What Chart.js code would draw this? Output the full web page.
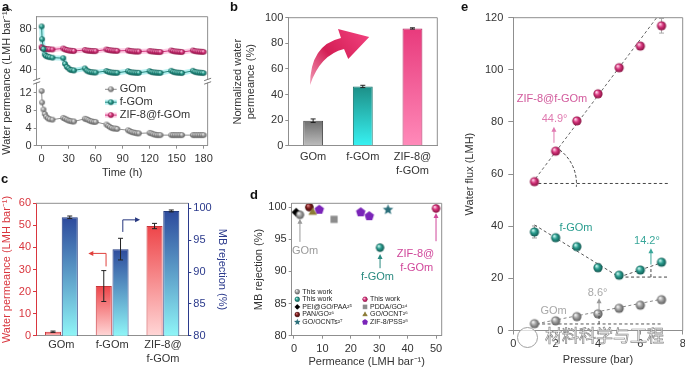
<!DOCTYPE html>
<html>
<head>
<meta charset="utf-8">
<script src="https://cdn.jsdelivr.net/npm/chart.js@4.4.1/dist/chart.umd.min.js"></script>
<style>
  body { margin:0; width:685px; height:368px; overflow:hidden; background:#fff; position:relative; font-family:'Liberation Sans', Arial, sans-serif; }
  canvas { position:absolute; }
  .pl { position:absolute; font-weight:bold; font-size:13px; line-height:13px; color:#111; }
  .wm { position:absolute; left:545px; top:325px; font-family:'Noto Sans CJK SC'; font-size:17px; line-height:20px; color:rgba(255,255,255,0.85); -webkit-text-stroke:0.7px #8a8a8a; }
  .logo { position:absolute; left:517px; top:327px; width:19px; height:19px; border:1.5px solid #a0a0a0; border-radius:50%; background:rgba(255,255,255,0.7); }
</style>
</head>
<body>
<canvas id="cA"></canvas>
<canvas id="cB"></canvas>
<canvas id="cC"></canvas>
<canvas id="cD"></canvas>
<canvas id="cE"></canvas>
<div class="pl" style="left:2px;top:0px">a</div>
<div class="pl" style="left:230px;top:0px">b</div>
<div class="pl" style="left:1px;top:172px">c</div>
<div class="pl" style="left:250px;top:188px">d</div>
<div class="pl" style="left:461px;top:0px">e</div>
<div class="logo"></div>
<div class="wm">材料科学与工程</div>
<script>
// ---- datos panel a (permeancia vs tiempo) ----
const aTime = [0, 0.5, 2, 3.5, 5, 7, 9, 12,
  24, 26, 28, 30, 32, 34, 36,
  48, 50, 52, 54, 56, 58, 60,
  72, 74, 76, 78, 80, 82, 84,
  96, 98, 100, 102, 104, 106, 108,
  120, 122, 124, 126, 128, 130, 132,
  144, 146, 148, 150, 152, 154, 156,
  168, 170, 172, 174, 176, 178, 180];
const aGOm = [12.4, 9.8, 8.2, 7.2, 6.6, 6.2, 6.0, 5.9,
  6.3, 6.1, 5.9, 5.7, 5.6, 5.5, 5.5,
  6.1, 6.0, 5.8, 5.6, 5.5, 5.4, 5.4,
  4.8, 4.5, 4.2, 4.0, 3.9, 3.9, 3.8,
  3.5, 3.3, 3.1, 3.0, 2.9, 2.8, 2.8,
  2.9, 2.8, 2.6, 2.5, 2.4, 2.4, 2.4,
  2.4, 2.4, 2.4, 2.4, 2.4, 2.4, 2.4,
  2.4, 2.4, 2.4, 2.4, 2.4, 2.4, 2.4];
const aFGOm = [82.5, 70, 60.5, 55, 53.5, 53, 52.5, 52,
  51.5, 46, 43, 41.5, 40, 39.8, 39.5,
  41.5, 39.5, 38.5, 38, 37.8, 37.6, 37.5,
  39, 38.2, 37.8, 37.5, 37.3, 37.2, 37.2,
  38.8, 38, 37.7, 37.5, 37.3, 37.2, 37.2,
  38.8, 38, 37.7, 37.5, 37.3, 37.2, 37.1,
  39.2, 38.2, 37.8, 37.5, 37.3, 37.2, 37,
  39.2, 38.2, 37.8, 37.5, 37.3, 37.2, 37];
const aZIF = [62.5, 61.5, 61, 60.7, 60.5, 60.3, 60.2, 60,
  61, 60, 59.5, 59, 58.8, 58.6, 58.5,
  59.5, 59, 58.8, 58.6, 58.5, 58.4, 58.4,
  60, 59.5, 59.2, 59, 58.8, 58.7, 58.6,
  59, 58.6, 58.4, 58.2, 58, 58, 58,
  58.5, 58.2, 58, 57.8, 57.6, 57.5, 57.5,
  59, 58.5, 58.2, 58, 57.8, 57.6, 57.5,
  59, 58.5, 58.2, 58, 57.8, 57.7, 57.6];
const aTicksX = [0, 30, 60, 90, 120, 150, 180];
const aTicksY = [0, 4, 8, 12, 40, 60, 80];
const aBrk = { lowMax: 14.4, upMin: 30, upMax: 92, split: 0.5, gap: 1 };

// ---- panel b ----
const bCats = ['GOm', 'f-GOm', ['ZIF-8@', 'f-GOm']];
const bVals = [19.5, 46.3, 91.6];
const bErr = [1.4, 0.9, 0.5];
const bTicksY = [0, 20, 40, 60, 80, 100];

// ---- panel c ----
const cCats = ['GOm', 'f-GOm', ['ZIF-8@', 'f-GOm']];
const cPerm = [1.8, 22.5, 49.7];
const cPermErr = [0.3, 7.0, 1.2];
const cRej = [98.6, 93.6, 99.6];
const cRejErr = [0.2, 1.7, 0.15];
const cTicksL = [0, 10, 20, 30, 40, 50, 60];
const cTicksR = [80, 85, 90, 95, 100];

// ---- panel d ----
const dThisGOm = [{x: 2.1, y: 98.8}];
const dThisFGOm = [{x: 30.3, y: 93.7}];
const dThisZIF = [{x: 50, y: 99.8}];
const dPEI = [{x: 0.8, y: 99.2}];
const dPDDA = [{x: 14.1, y: 98.1}];
const dPAN = [{x: 5.4, y: 100.0}];
const dGOOCNT = [{x: 6.6, y: 99.2}];
const dGOOCNTs = [{x: 33.1, y: 99.6}];
const dZIFPSS = [{x: 8.9, y: 99.6}, {x: 23.5, y: 99.2}, {x: 26.5, y: 98.6}];
const dTicksX = [0, 10, 20, 30, 40, 50];
const dTicksY = [80, 85, 90, 95, 100];

// ---- panel e ----
const ePress = [1, 2, 3, 4, 5, 6, 7];
const eGOm = [2.6, 3.7, 5.3, 6.4, 8.5, 9.7, 11.8];
const eGOmErr = [0.3, 0.4, 0.3, 0.5, 0.3, 0.3, 0.4];
const eFGOm = [37.8, 35.6, 32.2, 24.1, 21.2, 23.2, 26.2];
const eFGOmErr = [2.3, 0.8, 0.8, 1.5, 0.8, 0.8, 0.8];
const eZIF = [57.1, 68.8, 80.4, 90.8, 100.8, 109.1, 116.9];
const eZIFErr = [0.8, 0.8, 0.8, 0.8, 1.2, 1.2, 2.8];
const eZifFit = [{x: 1.05, y: 58.3}, {x: 6.77, y: 120}];
const eZifBase = [{x: 1.18, y: 56.4}, {x: 7.36, y: 56.4}];
const eFgoFit = [{x: 1, y: 40.5}, {x: 5, y: 20.5}];
const eFgoRise = [{x: 5, y: 20.5}, {x: 7, y: 26}];
const eFgoBase = [{x: 5.04, y: 20.5}, {x: 7.37, y: 20.5}];
const eGoFit = [{x: 1.1, y: 2.6}, {x: 7, y: 12}];
const eGoBase = [{x: 1.1, y: 2.5}, {x: 7.05, y: 2.5}];
const eTicksX = [0, 2, 4, 6, 8];
const eTicksY = [0, 20, 40, 60, 80, 100, 120];

// ---- config general ----
const AX = '#8f8f8f';
const TXT = '#333';
const FF = "'Liberation Sans', Arial, sans-serif";
Chart.defaults.font.family = FF;
Chart.defaults.font.size = 11;
Chart.defaults.color = TXT;
Chart.defaults.animation = false;
Chart.defaults.events = [];
Chart.defaults.plugins.legend.display = false;
Chart.defaults.plugins.tooltip.enabled = false;

const xy = (xs, ys) => xs.map((x, i) => ({x: x, y: ys[i]}));
const fixTicks = arr => s => { s.ticks = arr.map(v => ({value: v})); };

function place(id, box) {
  const c = document.getElementById(id);
  c.width = box.w; c.height = box.h;
  c.style.left = box.x + 'px'; c.style.top = box.y + 'px';
  return c;
}

function sphere(r, light, base, dark) {
  const s = Math.ceil(2 * r + 2), c = document.createElement('canvas');
  c.width = c.height = s;
  const g = c.getContext('2d'), m = s / 2;
  const gr = g.createRadialGradient(m - r * 0.35, m - r * 0.4, r * 0.1, m, m, r);
  gr.addColorStop(0, light); gr.addColorStop(0.45, base); gr.addColorStop(1, dark);
  g.fillStyle = gr; g.beginPath(); g.arc(m, m, r, 0, Math.PI * 2); g.fill();
  return c;
}

function poly(kind, r, fill) {
  const s = Math.ceil(2 * r + 2), c = document.createElement('canvas');
  c.width = c.height = s;
  const g = c.getContext('2d'), m = s / 2;
  let pts = [];
  if (kind === 'diamond') pts = [[0, -r], [r, 0], [0, r], [-r, 0]];
  else if (kind === 'square') pts = [[-r * .75, -r * .75], [r * .75, -r * .75], [r * .75, r * .75], [-r * .75, r * .75]];
  else if (kind === 'triangle') pts = [[0, -r], [r * .87, r * .5], [-r * .87, r * .5]];
  else if (kind === 'pentagon') for (let k = 0; k < 5; k++) { const a = -Math.PI / 2 + k * 2 * Math.PI / 5; pts.push([r * Math.cos(a), r * Math.sin(a)]); }
  else if (kind === 'star') for (let k = 0; k < 10; k++) { const a = -Math.PI / 2 + k * Math.PI / 5, rr = k % 2 ? r * 0.45 : r; pts.push([rr * Math.cos(a), rr * Math.sin(a)]); }
  g.fillStyle = fill; g.beginPath();
  pts.forEach((p, i) => i ? g.lineTo(m + p[0], m + p[1]) : g.moveTo(m + p[0], m + p[1]));
  g.closePath(); g.fill();
  return c;
}

const GRAY = ['#f4f4f4', '#a3a3a3', '#5a5a5a'];
const TEAL = ['#c8f7ef', '#2a9d8f', '#10564f'];
const PINK = ['#ffd3e8', '#d8367f', '#86103f'];

// escala con corte para el panel a
class BrokenScale extends Chart.LinearScale {
  getPixelForValue(v) {
    const mid = this.top + (this.bottom - this.top) * aBrk.split;
    if (v <= aBrk.lowMax) return this.bottom - v / aBrk.lowMax * (this.bottom - mid - aBrk.gap);
    return mid - aBrk.gap - (v - aBrk.upMin) / (aBrk.upMax - aBrk.upMin) * (mid - aBrk.gap - this.top);
  }
  getValueForPixel(p) {
    const mid = this.top + (this.bottom - this.top) * aBrk.split;
    if (p >= mid) return (this.bottom - p) / (this.bottom - mid - aBrk.gap) * aBrk.lowMax;
    return aBrk.upMin + (mid - aBrk.gap - p) / (mid - aBrk.gap - this.top) * (aBrk.upMax - aBrk.upMin);
  }
}
BrokenScale.id = 'broken';
BrokenScale.defaults = Chart.LinearScale.defaults;
Chart.register(BrokenScale);

// marco y barras de error (para todos)
function drawErr(chart) {
  const ctx = chart.ctx;
  chart.data.datasets.forEach((ds, i) => {
    if (!ds.errors) return;
    const meta = chart.getDatasetMeta(i), ys = chart.scales[meta.yAxisID];
    ctx.save(); ctx.strokeStyle = ds.errColor || '#222'; ctx.lineWidth = 1;
    meta.data.forEach((el, j) => {
      const e = ds.errors[j]; if (!e) return;
      const raw = ds.data[j], v = typeof raw === 'number' ? raw : raw.y;
      const x = el.x, y1 = ys.getPixelForValue(v + e), y2 = ys.getPixelForValue(v - e), w = ds.capW || 2.5;
      ctx.beginPath();
      ctx.moveTo(x, y1); ctx.lineTo(x, y2);
      ctx.moveTo(x - w, y1); ctx.lineTo(x + w, y1);
      ctx.moveTo(x - w, y2); ctx.lineTo(x + w, y2);
      ctx.stroke();
    });
    ctx.restore();
  });
}
Chart.register({
  id: 'err',
  beforeDatasetsDraw(chart, args, o) { if (o && o.under) drawErr(chart); },
  afterDatasetsDraw(chart, args, o) { if (!(o && o.under)) drawErr(chart); }
});
Chart.register({
  id: 'frame',
  afterDatasetsDraw(chart, args, o) {
    const {ctx, chartArea: a} = chart;
    ctx.save(); ctx.strokeStyle = AX; ctx.lineWidth = 1; ctx.beginPath();
    ctx.moveTo(a.left, a.top); ctx.lineTo(a.right, a.top);
    if (!(o && o.noRight)) { ctx.moveTo(a.right, a.top); ctx.lineTo(a.right, a.bottom); }
    ctx.stroke(); ctx.restore();
  }
});

function label(ctx, t, x, y, color, size, align) {
  ctx.save(); ctx.fillStyle = color; ctx.font = (size || 11) + 'px ' + FF;
  ctx.textAlign = align || 'center'; ctx.textBaseline = 'middle';
  ctx.fillText(t, x, y); ctx.restore();
}
function arrowUp(ctx, x, yb, yt, color) {
  ctx.save(); ctx.strokeStyle = color; ctx.fillStyle = color; ctx.lineWidth = 1;
  ctx.beginPath(); ctx.moveTo(x, yb); ctx.lineTo(x, yt + 4); ctx.stroke();
  ctx.beginPath(); ctx.moveTo(x, yt); ctx.lineTo(x - 2.5, yt + 5); ctx.lineTo(x + 2.5, yt + 5); ctx.closePath(); ctx.fill();
  ctx.restore();
}
function gridY(w) {
  return { grid: {drawOnChartArea: false, tickLength: 3, color: AX}, border: {color: AX}, afterFit: s => { s.width = w; } };
}

// ================= panel a =================
const boxA = {x: 0, y: 0, w: 217, h: 180}, areaA = {l: 36.7, t: 16.7, r: 210.7, b: 145.7};
const sphA = [sphere(2.8, ...GRAY), sphere(2.8, ...TEAL), sphere(2.8, ...PINK)];
const aLegend = {
  id: 'aLegend',
  afterDraw(chart) {
    const {ctx, chartArea: a} = chart, dss = chart.data.datasets;
    [0, 1, 2].forEach((i, k) => {
      const y = a.top + 72.6 + k * 12.9, x0 = a.left + 68.3, x1 = a.left + 80;
      if (i > 0) {
        ctx.save(); ctx.strokeStyle = dss[i + 2].borderColor; ctx.lineWidth = 5;
        ctx.beginPath(); ctx.moveTo(x0, y); ctx.lineTo(x1, y); ctx.stroke(); ctx.restore();
      }
      ctx.save(); ctx.strokeStyle = dss[i].borderColor; ctx.lineWidth = 1;
      ctx.beginPath(); ctx.moveTo(x0, y); ctx.lineTo(x1, y); ctx.stroke(); ctx.restore();
      const img = dss[i].pointStyle;
      ctx.drawImage(img, (x0 + x1) / 2 - img.width / 2, y - img.height / 2);
      label(ctx, dss[i].label, x1 + 3, y, TXT, 11, 'left');
    });
  }
};
const aBreak = {
  id: 'aBreak',
  afterDraw(chart) {
    const {ctx, chartArea: a} = chart, ys = chart.scales.y;
    const mid = (ys.getPixelForValue(aBrk.lowMax) + ys.getPixelForValue(aBrk.upMin)) / 2;
    [a.left, a.right].forEach(x => {
      ctx.save(); ctx.fillStyle = '#fff'; ctx.fillRect(x - 1.5, mid - 1.5, 3, 3);
      ctx.strokeStyle = '#777'; ctx.lineWidth = 1; ctx.beginPath();
      ctx.moveTo(x - 3.5, mid - 0.5); ctx.lineTo(x + 3.5, mid - 3);
      ctx.moveTo(x - 3.5, mid + 3); ctx.lineTo(x + 3.5, mid + 0.5);
      ctx.stroke(); ctx.restore();
    });
  }
};
new Chart(place('cA', boxA), {
  type: 'line',
  data: {
    datasets: [
      {label: 'GOm', data: xy(aTime, aGOm), borderColor: '#8d8d8d', borderWidth: 1, pointStyle: sphA[0], pointRadius: 3},
      {label: 'f-GOm', data: xy(aTime, aFGOm), borderColor: '#23867c', borderWidth: 1, pointStyle: sphA[1], pointRadius: 3},
      {label: 'ZIF-8@f-GOm', data: xy(aTime, aZIF), borderColor: '#d0337d', borderWidth: 1, pointStyle: sphA[2], pointRadius: 3},
      {data: xy(aTime, aFGOm), borderColor: 'rgba(90,225,225,0.45)', borderWidth: 5, pointRadius: 0},
      {data: xy(aTime, aZIF), borderColor: 'rgba(255,140,195,0.45)', borderWidth: 5, pointRadius: 0}
    ]
  },
  options: {
    responsive: false,
    layout: {padding: {left: 0, top: areaA.t - boxA.y, right: boxA.x + boxA.w - areaA.r, bottom: 0}},
    scales: {
      x: {
        type: 'linear', min: -5.5, max: 184.4, afterBuildTicks: fixTicks(aTicksX),
        afterFit: s => { s.height = boxA.y + boxA.h - areaA.b; },
        grid: {drawOnChartArea: false, tickLength: 3, color: AX}, border: {color: AX},
        ticks: {padding: 4, autoSkip: false, maxRotation: 0, callback: v => String(v)},
        title: {display: true, text: 'Time (h)', padding: 0}
      },
      y: Object.assign(gridY(areaA.l - boxA.x), {
        type: 'broken', min: 0, max: 92, afterBuildTicks: fixTicks(aTicksY),
        ticks: {padding: 2, callback: v => String(v)},
        title: {display: true, text: 'Water permeance (LMH bar⁻¹)', padding: 0}
      })
    }
  },
  plugins: [aLegend, aBreak]
});

// ================= panel b =================
const boxB = {x: 231, y: 0, w: 215, h: 186}, areaB = {l: 288.3, t: 17.7, r: 437.3, b: 145.7};
const bTop = ['#6e6e6e', '#1d8f87', '#e83a7c'], bBot = ['#bdbdbd', '#37f2f2', '#ff8ab9'], bLine = ['#4a4a4a', '#16736c', '#b02a62'];
function vgrad(tops, bots) {
  return c => {
    const ch = c.chart;
    if (c.type !== 'data' || !ch.chartArea) return tops[0];
    const ds = ch.data.datasets[c.datasetIndex], sc = ch.scales[ds.yAxisID || 'y'];
    const k = tops.length > 1 ? c.dataIndex : 0;
    const g = ch.ctx.createLinearGradient(0, sc.getPixelForValue(c.raw), 0, sc.getPixelForValue(sc.min));
    g.addColorStop(0, tops[k]); g.addColorStop(1, bots[k]);
    return g;
  };
}
const bArrow = {
  id: 'bArrow',
  afterDatasetsDraw(chart) {
    const {ctx} = chart, X = v => chart.scales.x.getPixelForValue(v), Y = v => chart.scales.y.getPixelForValue(v);
    const T = [X(-0.062), Y(47.4)], A = [X(0.561), Y(84.2)], H1 = [X(0.501), Y(91.2)], P = [X(1.129), Y(85)],
      H2 = [X(0.707), Y(67.7)], B = [X(0.622), Y(75.5)], Co = [X(-0.062), Y(78.7)], Ci = [X(0.139), Y(70.9)];
    const g = ctx.createLinearGradient(T[0], T[1], P[0], P[1]);
    g.addColorStop(0, '#f29ab6'); g.addColorStop(0.45, '#d41e55'); g.addColorStop(1, '#f0407c');
    ctx.save(); ctx.fillStyle = g; ctx.beginPath();
    ctx.moveTo(T[0], T[1]); ctx.quadraticCurveTo(Co[0], Co[1], A[0], A[1]);
    ctx.lineTo(H1[0], H1[1]); ctx.lineTo(P[0], P[1]); ctx.lineTo(H2[0], H2[1]); ctx.lineTo(B[0], B[1]);
    ctx.quadraticCurveTo(Ci[0], Ci[1], T[0], T[1]); ctx.closePath(); ctx.fill(); ctx.restore();
  }
};
new Chart(place('cB', boxB), {
  type: 'bar',
  data: {
    labels: bCats,
    datasets: [{data: bVals, errors: bErr, backgroundColor: vgrad(bTop, bBot), borderColor: bLine, borderWidth: 1,
      categoryPercentage: 0.8, barPercentage: 0.5}]
  },
  options: {
    responsive: false,
    layout: {padding: {left: 0, top: areaB.t - boxB.y, right: boxB.x + boxB.w - areaB.r, bottom: 0}},
    scales: {
      x: {
        afterFit: s => { s.height = boxB.y + boxB.h - areaB.b; },
        grid: {display: true, drawOnChartArea: false, drawTicks: false, color: AX}, border: {color: AX},
        ticks: {padding: 5}
      },
      y: Object.assign(gridY(areaB.l - boxB.x), {
        min: 0, max: 100, afterBuildTicks: fixTicks(bTicksY),
        ticks: {padding: 2, callback: v => String(v)},
        title: {display: true, text: ['Normalized water', 'permeance (%)'], padding: 0}
      })
    }
  },
  plugins: [bArrow]
});

// ================= panel c =================
const boxC = {x: 0, y: 190, w: 229, h: 178}, areaC = {l: 36, t: 203.3, r: 188.3, b: 335.7};
const RED = '#d9363e', NAVY = '#2b3a8c';
const cArrows = [
  {axis: 'y', x1: 0.88, y1: 31.4, y2: 37.3, x2: 0.53, c: '#e0403c'},
  {axis: 'y2', x1: 1.21, y1: 96.3, y2: 98.2, x2: 1.55, c: '#27387f'}
];
const cArrow = {
  id: 'cArrow',
  afterDatasetsDraw(chart) {
    const {ctx} = chart, X = v => chart.scales.x.getPixelForValue(v);
    cArrows.forEach(a => {
      const Y = v => chart.scales[a.axis].getPixelForValue(v);
      const x1 = X(a.x1), x2 = X(a.x2), yb = Y(a.y1), yt = Y(a.y2), dir = x2 > x1 ? 1 : -1;
      ctx.save(); ctx.strokeStyle = a.c; ctx.fillStyle = a.c; ctx.lineWidth = 1;
      ctx.beginPath(); ctx.moveTo(x1, yb); ctx.lineTo(x1, yt); ctx.lineTo(x2 - dir * 4, yt); ctx.stroke();
      ctx.beginPath(); ctx.moveTo(x2, yt); ctx.lineTo(x2 - dir * 5, yt - 2.5); ctx.lineTo(x2 - dir * 5, yt + 2.5); ctx.closePath(); ctx.fill();
      ctx.restore();
    });
  }
};
new Chart(place('cC', boxC), {
  type: 'bar',
  data: {
    labels: cCats,
    datasets: [
      {data: cPerm, errors: cPermErr, yAxisID: 'y', backgroundColor: vgrad(['#ee4549'], ['#ffd6d6']), borderColor: '#c9353a', borderWidth: 1,
        categoryPercentage: 0.66, barPercentage: 0.96},
      {data: cRej, errors: cRejErr, yAxisID: 'y2', backgroundColor: vgrad(['#2d4a9c'], ['#8ff5f7']), borderColor: '#223b80', borderWidth: 1,
        categoryPercentage: 0.66, barPercentage: 0.96}
    ]
  },
  options: {
    responsive: false,
    layout: {padding: {left: 0, top: areaC.t - boxC.y, right: 0, bottom: 0}},
    plugins: {frame: {noRight: true}},
    scales: {
      x: {
        afterFit: s => { s.height = boxC.y + boxC.h - areaC.b; },
        grid: {display: true, drawOnChartArea: false, drawTicks: false, color: AX}, border: {color: AX},
        ticks: {padding: 3}
      },
      y: {
        position: 'left', min: 0, max: 60, afterBuildTicks: fixTicks(cTicksL),
        afterFit: s => { s.width = areaC.l - boxC.x; },
        grid: {drawOnChartArea: false, tickLength: 3, color: RED}, border: {color: RED},
        ticks: {padding: 2, color: RED, callback: v => String(v)},
        title: {display: true, text: 'Water permeance (LMH bar⁻¹)', color: RED, padding: 0}
      },
      y2: {
        position: 'right', min: 80, max: 100.8, afterBuildTicks: fixTicks(cTicksR),
        afterFit: s => { s.width = boxC.x + boxC.w - areaC.r; },
        grid: {drawOnChartArea: false, tickLength: 3, color: NAVY}, border: {color: NAVY},
        ticks: {padding: 2, color: NAVY, callback: v => String(v)},
        title: {display: true, text: 'MB rejection (%)', color: NAVY, padding: 0}
      }
    }
  },
  plugins: [cArrow]
});

// ================= panel d =================
const boxD = {x: 252, y: 190, w: 198, h: 179}, areaD = {l: 291.7, t: 203.3, r: 441.7, b: 335.7};
const dLabels = [
  {t: 'GOm', x: 3.9, y: 93.2, c: '#9a9a9a'},
  {t: 'f-GOm', x: 29.4, y: 89.1, c: '#2a8a80'},
  {t: 'ZIF-8@', x: 42.8, y: 92.7, c: '#d0479a'},
  {t: 'f-GOm', x: 43.2, y: 90.5, c: '#d0479a'}
];
const dArrows = [
  {x: 2.1, y1: 94.6, y2: 98.2, c: '#9a9a9a'},
  {x: 30.3, y1: 90.5, y2: 92.7, c: '#2a8a80'},
  {x: 50, y1: 94.7, y2: 99.1, c: '#d0479a'}
];
const dLegendRows = [[2, null], [1, 0], [3, 7], [5, 4], [8, 6]];
const dAnnot = {
  id: 'dAnnot',
  afterDatasetsDraw(chart) {
    const {ctx, chartArea: a} = chart, X = v => chart.scales.x.getPixelForValue(v), Y = v => chart.scales.y.getPixelForValue(v);
    dArrows.forEach(r => arrowUp(ctx, X(r.x), Y(r.y1), Y(r.y2), r.c));
    dLabels.forEach(l => label(ctx, l.t, X(l.x), Y(l.y), l.c, 11));
    const dss = chart.data.datasets;
    dLegendRows.forEach((row, k) => {
      const y = a.top + 88.4 + k * 7.6;
      row.forEach((i, col) => {
        if (i === null) return;
        const img = dss[i].pointStyle, ix = a.left + (col ? 73.3 : 5.6), sc = 0.62;
        ctx.drawImage(img, ix - img.width * sc / 2, y - img.height * sc / 2, img.width * sc, img.height * sc);
        label(ctx, dss[i].label, ix + 5, y, '#222', 7, 'left');
      });
    });
  }
};
new Chart(place('cD', boxD), {
  type: 'scatter',
  data: {
    datasets: [
      {label: 'This work', data: dThisZIF, pointStyle: sphere(4.2, ...PINK), pointRadius: 4},
      {label: 'This work', data: dThisFGOm, pointStyle: sphere(4.2, ...TEAL), pointRadius: 4},
      {label: 'This work', data: dThisGOm, pointStyle: sphere(4.2, ...GRAY), pointRadius: 4},
      {label: 'PEI@GO/PAA²⁵', data: dPEI, pointStyle: poly('diamond', 4.6, '#000'), pointRadius: 4},
      {label: 'GO/OCNT²⁶', data: dGOOCNT, pointStyle: poly('triangle', 5, '#8c7c36'), pointRadius: 4},
      {label: 'PAN/GO²⁶', data: dPAN, pointStyle: sphere(4.3, '#d88080', '#7a1c1c', '#3d0a0a'), pointRadius: 4},
      {label: 'ZIF-8/PSS²⁸', data: dZIFPSS, pointStyle: poly('pentagon', 5, '#7a24b8'), pointRadius: 4},
      {label: 'PDDA/GO²⁴', data: dPDDA, pointStyle: poly('square', 4.8, '#8c8c8c'), pointRadius: 4},
      {label: 'GO/OCNTs²⁷', data: dGOOCNTs, pointStyle: poly('star', 5.5, '#2b6f7a'), pointRadius: 4}
    ]
  },
  options: {
    responsive: false,
    layout: {padding: {left: 0, top: areaD.t - boxD.y, right: boxD.x + boxD.w - areaD.r, bottom: 0}},
    scales: {
      x: {
        min: -0.8, max: 52, afterBuildTicks: fixTicks(dTicksX),
        afterFit: s => { s.height = boxD.y + boxD.h - areaD.b; },
        grid: {drawOnChartArea: false, tickLength: 3, color: AX}, border: {color: AX},
        ticks: {padding: 4, maxRotation: 0, callback: v => String(v)},
        title: {display: true, text: 'Permeance (LMH bar⁻¹)', padding: 0}
      },
      y: Object.assign(gridY(areaD.l - boxD.x), {
        min: 80, max: 100.6, afterBuildTicks: fixTicks(dTicksY),
        ticks: {padding: 2, callback: v => String(v)},
        title: {display: true, text: 'MB rejection (%)', padding: 0}
      })
    }
  },
  plugins: [dAnnot]
});

// ================= panel e =================
const boxE = {x: 463, y: 0, w: 227, h: 367}, areaE = {l: 513.3, t: 17.7, r: 682.7, b: 330.5};
const eLabels = [
  {t: 'ZIF-8@f-GOm', x: 1.83, y: 89, c: '#d25a9c'},
  {t: '44.9°', x: 1.95, y: 81.3, c: '#e07ab0'},
  {t: 'f-GOm', x: 2.96, y: 39.4, c: '#2a9d8f'},
  {t: '14.2°', x: 6.31, y: 34.5, c: '#3aa79a'},
  {t: 'GOm', x: 1.9, y: 7.5, c: '#a8a8a8'},
  {t: '8.6°', x: 3.98, y: 14.5, c: '#a8a8a8'}
];
const eArrows = [
  {x: 1.92, y1: 72, y2: 78.2, c: '#e07ab0'},
  {x: 6.5, y1: 25.3, y2: 31.6, c: '#3aa79a'},
  {x: 4.05, y1: 7.2, y2: 12.4, c: '#999'}
];
const eVdash = [{x: 6.5, y1: 20.5, y2: 24.4}, {x: 4.05, y1: 2.5, y2: 6.6}];
const eAnnot = {
  id: 'eAnnot',
  afterDatasetsDraw(chart) {
    const {ctx} = chart, X = v => chart.scales.x.getPixelForValue(v), Y = v => chart.scales.y.getPixelForValue(v);
    ctx.save(); ctx.setLineDash([3, 2]); ctx.strokeStyle = '#444'; ctx.lineWidth = 1;
    const p1 = [X(eZifFit[0].x), Y(eZifFit[0].y)], p2 = [X(eZifFit[1].x), Y(eZifFit[1].y)];
    const ang = Math.atan2(p2[1] - p1[1], p2[0] - p1[0]);
    ctx.beginPath(); ctx.arc(X(eZifBase[0].x - 0.18), Y(eZifBase[0].y), 42, ang, 0.08); ctx.stroke();
    eVdash.forEach(v => { ctx.beginPath(); ctx.moveTo(X(v.x), Y(v.y1)); ctx.lineTo(X(v.x), Y(v.y2)); ctx.stroke(); });
    ctx.restore();
    eArrows.forEach(r => arrowUp(ctx, X(r.x), Y(r.y1), Y(r.y2), r.c));
    eLabels.forEach(l => label(ctx, l.t, X(l.x), Y(l.y), l.c, 11));
  }
};
const dash = (d, c) => ({data: d, showLine: true, borderColor: c, borderWidth: 1, borderDash: [3, 2.5], pointRadius: 0});
new Chart(place('cE', boxE), {
  type: 'scatter',
  data: {
    datasets: [
      {data: xy(ePress, eZIF), errors: eZIFErr, errColor: '#aaa', pointStyle: sphere(4.6, ...PINK), pointRadius: 5},
      {data: xy(ePress, eFGOm), errors: eFGOmErr, errColor: '#999', pointStyle: sphere(4.6, ...TEAL), pointRadius: 5},
      {data: xy(ePress, eGOm), errors: eGOmErr, errColor: '#aaa', pointStyle: sphere(4.6, ...GRAY), pointRadius: 5},
      dash(eZifFit, '#666'), dash(eZifBase, '#444'),
      dash(eFgoFit, '#555'), dash(eFgoRise, '#555'), dash(eFgoBase, '#444'),
      dash(eGoFit, '#888'), dash(eGoBase, '#555')
    ]
  },
  options: {
    responsive: false,
    layout: {padding: {left: 0, top: areaE.t - boxE.y, right: boxE.x + boxE.w - areaE.r, bottom: 0}},
    plugins: {err: {under: true}},
    scales: {
      x: {
        min: 0, max: 8, afterBuildTicks: fixTicks(eTicksX),
        afterFit: s => { s.height = boxE.y + boxE.h - areaE.b; },
        grid: {drawOnChartArea: false, tickLength: 4, color: AX}, border: {color: AX},
        ticks: {padding: 3, maxRotation: 0, callback: v => String(v)},
        title: {display: true, text: 'Pressure (bar)', padding: 0}
      },
      y: Object.assign(gridY(areaE.l - boxE.x), {
        min: 0, max: 120, afterBuildTicks: fixTicks(eTicksY),
        grid: {drawOnChartArea: false, tickLength: 5, color: AX},
        ticks: {padding: 5, callback: v => String(v)},
        title: {display: true, text: 'Water flux (LMH)', padding: 0}
      })
    }
  },
  plugins: [eAnnot]
});
</script>
</body>
</html>
